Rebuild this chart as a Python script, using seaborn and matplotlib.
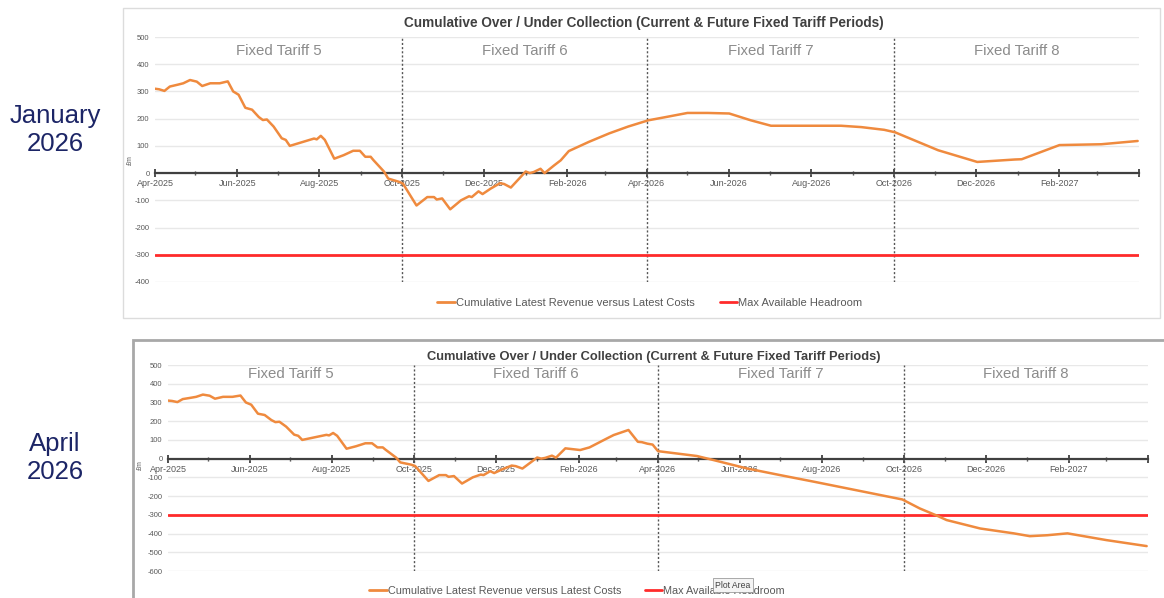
import pandas as pd
import matplotlib.pyplot as plt
import matplotlib.dates as mdates
import seaborn as sns
from matplotlib.patches import Rectangle

# actuals shared by both snapshots (Apr-2025 to mid Jan-2026)
actual_dates = ['2025-04-01', '2025-04-04', '2025-04-08', '2025-04-12', '2025-04-18', '2025-04-22',
                '2025-04-27', '2025-05-02', '2025-05-06', '2025-05-12', '2025-05-19', '2025-05-25',
                '2025-05-29', '2025-06-02', '2025-06-07', '2025-06-12', '2025-06-17', '2025-06-20',
                '2025-06-23', '2025-06-28', '2025-07-04', '2025-07-07', '2025-07-10', '2025-07-18',
                '2025-07-28', '2025-07-30', '2025-08-02', '2025-08-05', '2025-08-12', '2025-08-19',
                '2025-08-26', '2025-08-31', '2025-09-04', '2025-09-08', '2025-09-10', '2025-09-18',
                '2025-09-21', '2025-09-29', '2025-10-02', '2025-10-12', '2025-10-20', '2025-10-25',
                '2025-10-27', '2025-10-31', '2025-11-06', '2025-11-14', '2025-11-20', '2025-11-22',
                '2025-11-27', '2025-11-30', '2025-12-06', '2025-12-13', '2025-12-16', '2025-12-21',
                '2025-12-27', '2026-01-01', '2026-01-04', '2026-01-07', '2026-01-12']
actual_vals = [310, 308, 302, 318, 325, 330,
               342, 336, 320, 330, 330, 337,
               300, 288, 240, 233, 206, 195,
               197, 171, 128, 122, 100, 112,
               127, 124, 137, 122, 53, 66,
               82, 82, 60, 60, 48, 5,
               -20, -32, -39, -119, -88, -88,
               -97, -93, -133, -100, -85, -88,
               -67, -77, -57, -37, -40, -53,
               -21, 6, 0, 4, 16]

# January 2026 view onwards
jan_dates = ['2026-01-15', '2026-01-22', '2026-01-27', '2026-02-02', '2026-02-17', '2026-03-04',
             '2026-03-18', '2026-04-02', '2026-04-14', '2026-05-01', '2026-05-16', '2026-06-01',
             '2026-06-17', '2026-07-02', '2026-07-27', '2026-08-23', '2026-09-07', '2026-09-24',
             '2026-10-02', '2026-11-03', '2026-12-02', '2026-12-30', '2027-01-04', '2027-02-01',
             '2027-03-04', '2027-03-31']
jan_vals = [0, 28, 47, 81, 115, 146,
            171, 194, 205, 221, 221, 219,
            194, 174, 174, 174, 169, 159,
            150, 84, 41, 50, 51, 103,
            106, 118]

# April 2026 view onwards
apr_dates = ['2026-01-15', '2026-01-22', '2026-02-02', '2026-02-09', '2026-02-22', '2026-02-27',
             '2026-03-10', '2026-03-17', '2026-03-20', '2026-03-24', '2026-03-28', '2026-04-01',
             '2026-04-30', '2026-05-12', '2026-06-06', '2026-07-01', '2026-07-26', '2026-08-20',
             '2026-09-14', '2026-09-30', '2026-10-13', '2026-10-25', '2026-11-02', '2026-11-27',
             '2026-12-22', '2027-01-03', '2027-01-16', '2027-01-31', '2027-03-01', '2027-03-31']
apr_vals = [5, 55, 46, 60, 108, 126,
            153, 90, 88, 80, 75, 40,
            14, -7, -52, -88, -123, -159,
            -195, -218, -266, -302, -328, -373,
            -399, -414, -409, -399, -435, -467]

headroom = -300
period_bounds = ['2025-04-01', '2025-10-01', '2026-04-01', '2026-10-01', '2027-04-01']
period_names = ['Fixed Tariff 5', 'Fixed Tariff 6', 'Fixed Tariff 7', 'Fixed Tariff 8']
tick_dates = ['2025-04-01', '2025-06-01', '2025-08-01', '2025-10-01', '2025-12-01', '2026-02-01',
              '2026-04-01', '2026-06-01', '2026-08-01', '2026-10-01', '2026-12-01', '2027-02-01',
              '2027-04-01']
tick_labels = ['Apr-2025', 'Jun-2025', 'Aug-2025', 'Oct-2025', 'Dec-2025', 'Feb-2026',
               'Apr-2026', 'Jun-2026', 'Aug-2026', 'Oct-2026', 'Dec-2026', 'Feb-2027', '']
title = 'Cumulative Over / Under Collection (Current & Future Fixed Tariff Periods)'
series_name = 'Cumulative Latest Revenue versus Latest Costs'
headroom_name = 'Max Available Headroom'

sns.set_theme(style='white')
plt.rcParams['font.family'] = ['Liberation Sans', 'DejaVu Sans']

ORANGE = '#ef8a3e'
RED = '#ff2b2b'
GREY = '#595959'
NAVY = '#1c2566'

W, H = 1164, 598
fig = plt.figure(figsize=(W / 100, H / 100), dpi=100)


def fx(px):
    return px / W


def fy(py):
    return 1 - py / H


# panel frames
fig.add_artist(Rectangle((fx(123), fy(318)), fx(1160) - fx(123), fy(8) - fy(318),
                         transform=fig.transFigure, fill=False, ec='#dcdcdc', lw=1))
fig.add_artist(Rectangle((fx(133), fy(610)), fx(1175) - fx(133), fy(340) - fy(610),
                         transform=fig.transFigure, fill=False, ec='#a8a8a8', lw=2))


def draw_panel(ax, dates, vals, ylo):
    sns.lineplot(x=pd.to_datetime(dates), y=vals, ax=ax, color=ORANGE, lw=1.8, zorder=4)
    ax.axhline(headroom, color=RED, lw=2, zorder=3)
    bounds = pd.to_datetime(period_bounds)
    for b in bounds[1:-1]:
        ax.axvline(b, color='#555555', lw=1, ls=(0, (1.5, 1.5)), zorder=2)
    for name, a, b in zip(period_names, bounds[:-1], bounds[1:]):
        ax.text(a + (b - a) / 2, 450, name, ha='center', va='center', fontsize=10.8, color='#8c8c8c')
    ax.set_xlim(bounds[0], bounds[-1])
    ax.set_ylim(ylo, 500)
    ax.set_yticks(range(ylo, 501, 100))
    ax.set_yticklabels([str(v) for v in range(ylo, 501, 100)], fontsize=5.5, color=GREY)
    ax.yaxis.grid(True, color='#e8e8e8', lw=1)
    ax.xaxis.grid(False)
    ax.set_xticks(pd.to_datetime(tick_dates))
    ax.set_xticklabels(tick_labels)
    ax.xaxis.set_minor_locator(mdates.MonthLocator(bymonth=[1, 3, 5, 7, 9, 11]))
    for s in ['top', 'right', 'left']:
        ax.spines[s].set_visible(False)
    ax.spines['bottom'].set_position(('data', 0))
    ax.spines['bottom'].set_color('#404040')
    ax.spines['bottom'].set_linewidth(1.6)
    ax.spines['bottom'].set_zorder(3)
    ax.tick_params(axis='x', which='major', direction='inout', length=6, width=1.3, color='#404040',
                   labelsize=6.5, labelcolor=GREY, pad=1.5, bottom=True)
    ax.tick_params(axis='x', which='minor', direction='inout', length=3, width=1, color='#404040', bottom=True)
    ax.tick_params(axis='y', length=0, pad=4)
    ax.set_xlabel('')
    ax.set_ylabel('')
    ax.set_facecolor('none')


# top panel: January 2026
ax1 = fig.add_axes([fx(155), fy(282), fx(1139) - fx(155), fy(37) - fy(282)])
draw_panel(ax1, actual_dates + jan_dates, actual_vals + jan_vals, -400)
fig.text(fx(644), fy(23), title, ha='center', va='center', fontsize=9.8, fontweight='bold', color='#404040')
fig.text(fx(130), fy(160), '£m', rotation=90, ha='center', va='center', fontsize=5, color=GREY)

# bottom panel: April 2026
ax2 = fig.add_axes([fx(168), fy(571), fx(1148) - fx(168), fy(365) - fy(571)])
draw_panel(ax2, actual_dates + apr_dates, actual_vals + apr_vals, -600)
fig.text(fx(654), fy(357), title, ha='center', va='center', fontsize=9.3, fontweight='bold', color='#404040')
fig.text(fx(140), fy(465), '£m', rotation=90, ha='center', va='center', fontsize=5, color=GREY)

handles = [plt.Line2D([], [], color=ORANGE, lw=2), plt.Line2D([], [], color=RED, lw=2)]
for cx, cy, fs in [(650, 303, 8), (577, 591, 7.8)]:
    fig.legend(handles, [series_name, headroom_name], loc='center', bbox_to_anchor=(fx(cx), fy(cy)),
               ncol=2, frameon=False, fontsize=fs, labelcolor=GREY, handlelength=1.6,
               handletextpad=0.1, columnspacing=2.2)

fig.text(fx(733), fy(585), 'Plot Area', ha='center', va='center', fontsize=6.2, color='#404040', zorder=10,
         bbox=dict(boxstyle='square,pad=0.3', fc='#f4f4f4', ec='#8a8a8a', lw=0.5))

# snapshot labels
fig.text(fx(55), fy(130), 'January\n2026', ha='center', va='center', fontsize=18.5, color=NAVY,
         linespacing=1.2)
fig.text(fx(55), fy(458), 'April\n2026', ha='center', va='center', fontsize=18.5, color=NAVY,
         linespacing=1.2)

fig.savefig('out.png', dpi=100, facecolor='white')
